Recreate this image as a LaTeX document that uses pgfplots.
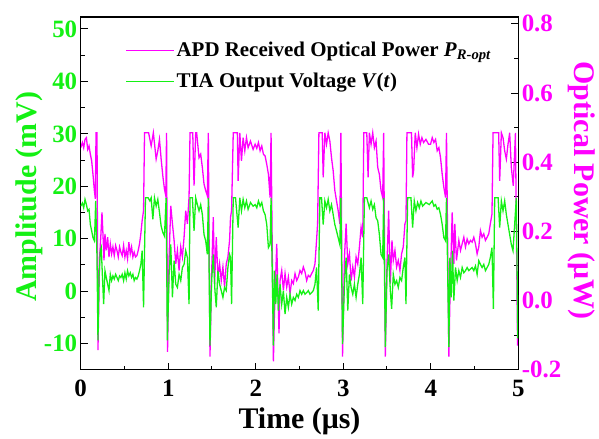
\documentclass[border=0pt]{standalone}
\usepackage{fontspec}
\setmainfont{Liberation Serif}
\usepackage{pgfplots}
\pgfplotsset{compat=1.18}
\usepackage{pgfplotstable}
\definecolor{mygreen}{RGB}{20,240,20}
\definecolor{mymag}{RGB}{255,0,255}

\pgfplotstableread{
t p
0.000 0.442
0.019 0.457
0.034 0.442
0.049 0.466
0.065 0.471
0.080 0.437
0.095 0.447
0.110 0.423
0.125 0.404
0.140 0.365
0.156 0.318
0.167 0.294
0.175 0.485
0.186 0.485
0.197 -0.143
0.216 0.126
0.231 0.193
0.243 0.255
0.254 0.193
0.266 0.116
0.277 0.193
0.292 0.145
0.308 0.183
0.323 0.126
0.338 0.164
0.353 0.135
0.368 0.155
0.383 0.130
0.399 0.159
0.414 0.145
0.429 0.126
0.444 0.155
0.459 0.140
0.474 0.130
0.490 0.159
0.505 0.126
0.520 0.145
0.535 0.121
0.550 0.169
0.566 0.135
0.581 0.155
0.596 0.126
0.611 0.140
0.626 0.126
0.642 0.130
0.657 0.145
0.672 0.164
0.687 0.193
0.702 0.231
0.718 0.260
0.729 0.485
0.776 0.485
0.805 0.447
0.830 0.485
0.862 0.409
0.881 0.433
0.900 0.466
0.919 0.409
0.938 0.361
0.957 0.322
0.972 0.303
0.981 0.485
0.992 -0.148
1.010 0.126
1.029 0.274
1.048 0.222
1.067 0.174
1.086 0.106
1.105 0.145
1.124 0.087
1.143 0.155
1.162 0.126
1.181 0.183
1.200 0.260
1.219 0.222
1.238 0.300
1.249 0.485
1.280 0.485
1.295 0.332
1.314 0.485
1.325 0.485
1.352 0.413
1.371 0.423
1.390 0.385
1.409 0.337
1.428 0.318
1.447 0.303
1.458 0.485
1.477 -0.162
1.496 0.078
1.515 0.241
1.530 0.049
1.549 0.183
1.568 0.068
1.587 0.106
1.606 0.058
1.625 0.097
1.644 0.039
1.663 0.106
1.682 0.126
1.701 0.174
1.712 0.241
1.724 0.260
1.743 0.485
1.790 0.485
1.799 0.346
1.818 0.485
1.837 0.404
1.856 0.471
1.875 0.433
1.894 0.471
1.913 0.442
1.940 0.461
1.970 0.437
1.993 0.452
2.012 0.440
2.031 0.457
2.050 0.433
2.069 0.447
2.088 0.423
2.107 0.418
2.126 0.394
2.145 0.365
2.164 0.298
2.175 0.485
2.202 -0.176
2.213 -0.047
2.240 0.164
2.266 -0.095
2.278 0.058
2.297 0.087
2.316 0.030
2.335 0.078
2.354 0.039
2.373 0.068
2.392 0.020
2.411 0.058
2.430 0.049
2.449 0.078
2.468 0.058
2.487 0.068
2.506 0.087
2.525 0.078
2.544 0.097
2.563 0.083
2.582 0.058
2.601 0.073
2.620 0.068
2.639 0.078
2.658 0.087
2.677 0.106
2.695 0.174
2.707 0.222
2.722 0.485
2.760 0.485
2.771 0.356
2.790 0.485
2.809 0.452
2.828 0.485
2.847 0.461
2.866 0.413
2.885 0.375
2.904 0.318
2.923 0.289
2.942 0.260
2.961 0.222
2.973 0.485
2.992 -0.162
3.014 0.126
3.033 0.222
3.052 0.106
3.071 0.135
3.090 0.058
3.109 0.097
3.128 0.068
3.147 0.126
3.166 0.106
3.185 0.155
3.204 0.212
3.223 0.183
3.235 0.485
3.269 0.485
3.284 0.356
3.299 0.485
3.318 0.452
3.337 0.485
3.356 0.442
3.375 0.461
3.394 0.385
3.413 0.365
3.432 0.318
3.451 0.298
3.462 0.485
3.481 -0.162
3.500 0.106
3.519 0.260
3.538 0.049
3.557 0.174
3.572 0.116
3.591 0.145
3.610 0.097
3.629 0.116
3.648 0.087
3.667 0.135
3.686 0.155
3.705 0.222
3.717 0.231
3.728 0.485
3.780 0.485
3.793 0.356
3.804 0.375
3.823 0.485
3.842 0.442
3.861 0.481
3.880 0.452
3.899 0.471
3.918 0.457
3.945 0.466
3.975 0.452
3.998 0.452
4.017 0.471
4.036 0.457
4.055 0.466
4.074 0.433
4.093 0.442
4.112 0.413
4.131 0.365
4.150 0.327
4.169 0.298
4.180 0.485
4.207 -0.162
4.219 0.000
4.245 0.255
4.264 0.106
4.275 0.222
4.294 0.116
4.321 0.174
4.340 0.145
4.359 0.164
4.378 0.183
4.397 0.155
4.416 0.178
4.435 0.164
4.454 0.174
4.473 0.169
4.492 0.183
4.511 0.164
4.530 0.135
4.549 0.155
4.568 0.202
4.587 0.183
4.606 0.193
4.625 0.174
4.644 0.183
4.663 0.193
4.681 0.222
4.700 0.250
4.712 0.485
4.776 0.485
4.788 0.346
4.807 0.485
4.826 0.471
4.845 0.433
4.864 0.409
4.883 0.452
4.902 0.485
4.921 0.385
4.943 0.332
4.968 0.485
4.992 -0.130
}\magdata

\pgfplotstableread{
t v
0.000 16.2
0.019 16.8
0.034 15.9
0.049 17.5
0.065 16.5
0.080 15.3
0.095 15.6
0.110 12.7
0.125 11.5
0.140 10.2
0.156 9.6
0.163 12.7
0.171 17.2
0.186 6.4
0.197 -9.4
0.209 2.6
0.224 7.7
0.235 8.3
0.247 3.2
0.262 -2.5
0.277 3.9
0.292 2.6
0.308 1.3
0.323 0.1
0.338 3.2
0.353 2.0
0.368 2.9
0.383 2.3
0.399 3.2
0.414 2.6
0.429 2.0
0.444 2.9
0.459 2.6
0.474 3.2
0.490 2.0
0.505 3.5
0.520 2.3
0.535 3.9
0.550 2.9
0.566 3.5
0.581 2.6
0.596 3.2
0.611 2.0
0.626 2.6
0.642 2.3
0.657 2.9
0.672 3.9
0.687 5.1
0.702 7.7
0.718 -3.1
0.740 17.8
0.770 17.8
0.790 17.2
0.805 17.8
0.824 13.7
0.843 17.8
0.862 16.2
0.881 17.5
0.900 15.0
0.919 12.4
0.938 11.2
0.957 10.5
0.976 17.8
0.990 -9.4
1.010 3.2
1.029 8.9
1.048 -1.2
1.067 5.8
1.086 1.3
1.105 0.7
1.124 3.2
1.143 2.0
1.162 4.5
1.181 5.1
1.200 7.7
1.219 6.4
1.238 -2.5
1.249 17.8
1.276 17.8
1.295 11.5
1.314 17.8
1.333 16.5
1.352 15.3
1.371 16.5
1.390 14.6
1.409 10.8
1.428 9.6
1.447 7.0
1.458 17.8
1.477 -10.4
1.496 2.0
1.515 7.0
1.534 0.1
1.549 -3.1
1.568 3.9
1.587 1.3
1.606 0.1
1.625 -1.2
1.644 0.7
1.663 0.1
1.682 4.5
1.701 7.0
1.712 6.4
1.724 -2.5
1.743 17.8
1.769 17.8
1.799 12.1
1.818 17.8
1.837 15.3
1.856 17.5
1.875 15.9
1.894 17.2
1.913 15.6
1.940 16.9
1.970 16.2
1.993 16.5
2.012 15.9
2.031 17.2
2.050 16.2
2.069 16.9
2.088 15.3
2.107 14.6
2.126 12.7
2.145 8.3
2.164 8.9
2.175 17.8
2.202 -10.4
2.213 3.9
2.229 -2.5
2.244 3.2
2.259 -3.7
2.278 1.3
2.297 -2.5
2.316 0.1
2.335 -4.4
2.354 -1.2
2.373 -3.1
2.392 -0.6
2.411 -2.5
2.430 -1.2
2.449 -1.8
2.468 -0.6
2.487 -1.2
2.506 0.1
2.525 -0.6
2.544 0.1
2.563 -0.6
2.582 -0.3
2.601 0.1
2.620 -0.6
2.639 -0.3
2.658 0.1
2.677 1.3
2.695 4.5
2.714 -3.7
2.733 17.8
2.752 17.8
2.771 12.7
2.790 17.2
2.809 15.9
2.828 17.5
2.847 15.3
2.866 16.5
2.885 14.6
2.904 12.7
2.923 11.5
2.942 10.2
2.961 8.9
2.973 17.8
2.992 -10.1
3.014 1.3
3.033 6.4
3.052 -3.7
3.071 3.2
3.090 0.7
3.109 -0.6
3.128 1.3
3.147 -1.2
3.166 1.3
3.185 3.2
3.204 6.4
3.223 -2.5
3.242 17.8
3.269 17.8
3.299 15.9
3.318 17.2
3.337 15.6
3.356 16.5
3.375 14.0
3.394 13.4
3.413 10.8
3.432 7.0
3.451 6.4
3.462 17.8
3.481 -10.7
3.500 3.9
3.519 7.0
3.538 0.1
3.553 -3.4
3.572 3.2
3.591 1.3
3.610 2.0
3.629 0.7
3.648 2.6
3.667 2.0
3.686 4.5
3.705 6.4
3.717 -2.5
3.736 17.8
3.774 17.8
3.793 12.1
3.812 17.2
3.831 15.3
3.850 16.9
3.869 15.9
3.888 17.2
3.907 16.2
3.945 16.9
3.983 16.5
4.017 17.2
4.036 16.2
4.055 16.5
4.074 15.6
4.093 15.9
4.112 14.6
4.131 12.7
4.150 10.2
4.169 9.6
4.180 17.8
4.207 -10.7
4.219 6.4
4.234 -1.2
4.249 7.7
4.264 -1.8
4.283 4.5
4.302 2.0
4.321 3.9
4.340 2.6
4.359 4.5
4.378 3.5
4.397 3.9
4.416 4.5
4.435 3.9
4.454 4.2
4.473 4.5
4.492 3.9
4.511 4.8
4.530 3.2
4.549 5.8
4.568 5.1
4.587 4.5
4.606 5.1
4.625 3.9
4.644 4.5
4.663 5.1
4.681 6.4
4.700 8.3
4.716 -3.4
4.731 17.8
4.770 17.8
4.788 12.1
4.807 17.2
4.826 15.3
4.845 17.2
4.864 14.6
4.883 12.7
4.902 10.8
4.921 8.9
4.940 7.7
4.959 12.7
4.978 17.8
4.995 -9.0
}\greendata

\begin{document}
\begin{tikzpicture}
\pgfplotsset{
 common/.style={
  scale only axis, width=439pt, height=354pt,
  xmin=0, xmax=5,
  tick align=inside,
  major tick length=7pt, minor tick length=4pt,
  every tick/.style={black, line width=1pt},
  axis line style={line width=1.2pt},
  /pgf/number format/assume math mode=true,
  tick label style={font=\bfseries\fontsize{25}{25}\selectfont},
  label style={font=\bfseries\fontsize{30}{30}\selectfont},
 }
}
\begin{axis}[common, name=ax1,
  axis y line*=right, axis x line=none,
  ymin=-0.2, ymax=0.82,
  ytick={-0.2,0,0.2,0.4,0.6,0.8},
  minor ytick={-0.1,0.1,0.3,0.5,0.7},
  yticklabel style={text=mymag, /pgf/number format/.cd, fixed, fixed zerofill, precision=1},
  ylabel={Optical Power (μW)},
  ylabel style={text=mymag, rotate=180, at={(axis description cs:1.146,0.508)}, anchor=center},
]
\addplot[mymag, line width=1.3pt] table[x=t,y=p]{\magdata};
\end{axis}
\begin{axis}[common, name=ax2,
  ymin=-15, ymax=52.3,
  ytick={-10,0,10,20,30,40,50}, minor ytick={-5,5,15,25,35,45},
  xtick={0,1,2,3,4,5}, minor xtick={0.5,1.5,2.5,3.5,4.5},
  tick pos=left,
  xticklabel style={yshift=-7pt},
  yticklabel style={text=mygreen},
  ylabel={Amplitude (mV)},
  ylabel style={text=mygreen, at={(axis description cs:-0.118,0.49)}, anchor=center},
  xlabel={Time (μs)},
  xlabel style={at={(axis description cs:0.5,-0.146)}, anchor=center},
  legend cell align=left,
  legend image code/.code={\draw[#1] (0pt,0pt) -- (48pt,0pt);},
  legend style={draw=none, fill=none, at={(axis description cs:0.095,0.94)}, anchor=north west,
    font=\bfseries\fontsize{21}{21}\selectfont, row sep=11pt},
]
\addlegendimage{mymag, line width=1.3pt}
\addlegendentry{APD Received Optical Power \textit{P}\textsubscript{\textit{R-opt}}}
\addplot[mygreen, line width=1.3pt] table[x=t,y=v]{\greendata};
\addlegendentry{TIA Output Voltage \textit{V}(\textit{t})}
\end{axis}
\path (ax2.south west) ++(-81pt,-61pt) rectangle ++(599pt,432pt);
\end{tikzpicture}
\end{document}
